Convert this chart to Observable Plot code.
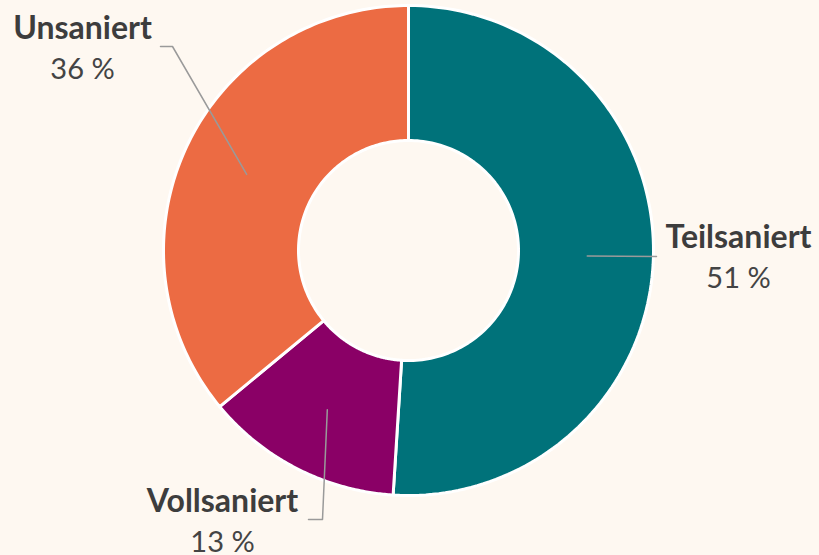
<!DOCTYPE html>
<html>
<head>
<meta charset="utf-8">
<script src="https://cdn.jsdelivr.net/npm/d3@7"></script>
<script src="https://cdn.jsdelivr.net/npm/@observablehq/plot@0.6"></script>
<style>
  html, body { margin: 0; padding: 0; background: #fef8f1; }
  #chart { width: 819px; height: 555px; }
</style>
</head>
<body>
<div id="chart"></div>
<script>
const categories = ["Teilsaniert", "Vollsaniert", "Unsaniert"];
const values = [51, 13, 36];
const percentLabels = ["51 %", "13 %", "36 %"];
const colors = ["#00727a", "#8a0066", "#ec6b43"];

// geometry (units: outer radius = 1)
const W = 819, H = 555, R = 245, CX = 408, CY = 250;
const inner = 110 / R;
const leaderR = 0.73;

const total = d3.sum(values);
const slices = [];
let acc = 0;
categories.forEach((c, i) => {
  const a0 = acc / total * 2 * Math.PI;
  acc += values[i];
  const a1 = acc / total * 2 * Math.PI;
  slices.push({name: c, value: values[i], a0, a1, mid: (a0 + a1) / 2});
});

const pts = [];
slices.forEach(s => {
  const n = 120;
  for (let k = 0; k <= n; k++) {
    const a = s.a0 + (s.a1 - s.a0) * k / n;
    pts.push({name: s.name, x: Math.sin(a), y: Math.cos(a)});
  }
  for (let k = n; k >= 0; k--) {
    const a = s.a0 + (s.a1 - s.a0) * k / n;
    pts.push({name: s.name, x: inner * Math.sin(a), y: inner * Math.cos(a)});
  }
});

// label placement (pixel -> unit helpers)
const ux = px => (px - CX) / R;
const uy = py => (CY - py) / R;
const labelPos = {
  "Teilsaniert": {tx: ux(738), ty: uy(247), path: [[ux(656), uy(256)]]},
  "Vollsaniert": {tx: ux(222), ty: uy(511), path: [[ux(322), uy(519)], [ux(308), uy(519)]]},
  "Unsaniert":   {tx: ux(82),  ty: uy(38),  path: [[ux(172), uy(46)], [ux(160), uy(46)]]}
};

const leaders = [];
slices.forEach(s => {
  leaders.push({name: s.name, x: leaderR * Math.sin(s.mid), y: leaderR * Math.cos(s.mid)});
  labelPos[s.name].path.forEach(p => leaders.push({name: s.name, x: p[0], y: p[1]}));
});

const labels = slices.map((s, i) => ({
  name: s.name, pct: percentLabels[i], x: labelPos[s.name].tx, y: labelPos[s.name].ty
}));

const plot = Plot.plot({
  width: W, height: H,
  margin: 0,
  style: {background: "#fef8f1", overflow: "visible"},
  x: {domain: [ux(0), ux(W)], range: [0, W], axis: null},
  y: {domain: [uy(H), uy(0)], range: [H, 0], axis: null},
  color: {domain: categories, range: colors},
  marks: [
    Plot.line(pts, {x: "x", y: "y", z: "name", fill: "name", stroke: "white", strokeWidth: 3, strokeLinejoin: "round", curve: "linear-closed"}),
    Plot.line(leaders, {x: "x", y: "y", z: "name", stroke: "#9a9a9a", strokeWidth: 1.5}),
    Plot.text(labels, {x: "x", y: "y", text: "name", lineAnchor: "bottom", textAnchor: "middle", fontSize: 32, fontWeight: 700, fill: "#3d3d3d", fontFamily: "Lato"}),
    Plot.text(labels, {x: "x", y: "y", text: "pct", dy: 40, lineAnchor: "bottom", textAnchor: "middle", fontSize: 29, fontWeight: 400, fill: "#444444", fontFamily: "Lato"})
  ]
});
document.getElementById("chart").appendChild(plot);
</script>
</body>
</html>
